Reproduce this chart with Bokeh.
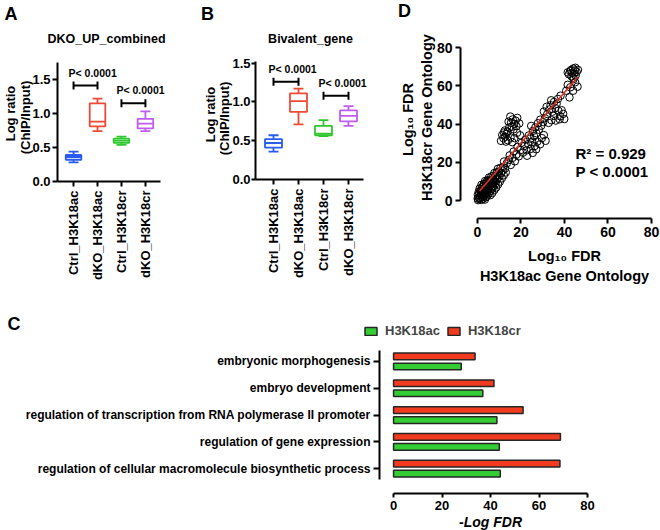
import math
from bokeh.plotting import figure
from bokeh.models import (ColumnDataSource, FixedTicker, NumeralTickFormatter, Label,
                          LabelSet, Legend, LegendItem, Range1d)
from bokeh.layouts import row, column
from bokeh.transform import dodge
from bokeh.core.properties import value
from bokeh.embed import file_html
from bokeh.resources import INLINE

FONT = "Liberation Sans"

# ---------------- Panels A / B : box summaries ----------------
box_cats = ["Ctrl_H3K18ac", "dKO_H3K18ac", "Ctrl_H3K18cr", "dKO_H3K18cr"]
box_colors = ["#2a5cf0", "#f04a35", "#2ec82e", "#c05cf0"]

a_title = "DKO_UP_combined"
a_low = [0.28, 0.74, 0.54, 0.74]
a_q1 = [0.32, 0.81, 0.57, 0.78]
a_med = [0.36, 0.88, 0.60, 0.85]
a_q3 = [0.39, 1.15, 0.63, 0.92]
a_high = [0.44, 1.22, 0.66, 1.03]
a_cmp_y = [1.41, 1.15]

b_title = "Bivalent_gene"
b_low = [0.36, 0.71, 0.56, 0.69]
b_q1 = [0.41, 0.87, 0.57, 0.75]
b_med = [0.47, 1.01, 0.59, 0.82]
b_q3 = [0.52, 1.11, 0.69, 0.89]
b_high = [0.57, 1.17, 0.765, 0.945]
b_cmp_y = [1.26, 1.08]

cmp_pairs = [("Ctrl_H3K18ac", "dKO_H3K18ac"), ("Ctrl_H3K18cr", "dKO_H3K18cr")]
cmp_text = ["P< 0.0001", "P< 0.0001"]
y_title_lines = ["Log ratio", "(ChIP/Input)"]
box_yticks = [0, 0.5, 1.0, 1.5]

# ---------------- Panel D : scatter ----------------
go_points = [
    (0.3, 0.2), (1.0, 0.8), (1.8, 0.3), (2.6, 1.0), (3.4, 0.5), (0.1, 1.0), (0.5, 1.6), (1.4, 2.2),
    (2.2, 1.8), (3.0, 2.4), (3.9, 1.7), (4.6, 2.6), (0.2, 3.0), (1.0, 3.6), (1.9, 3.2), (2.8, 3.9),
    (3.6, 3.3), (4.3, 4.0), (5.2, 3.6), (0.6, 4.6), (1.5, 5.0), (2.3, 4.7), (3.2, 5.4), (4.0, 5.0),
    (4.9, 5.6), (5.8, 4.8), (6.5, 5.9), (6.8, 3.9), (1.0, 6.3), (2.0, 6.8), (3.0, 6.4), (3.8, 7.1),
    (4.7, 6.9), (5.5, 7.4), (6.3, 7.0), (7.2, 7.6), (7.8, 5.6), (1.8, 8.2), (2.9, 8.6), (3.9, 8.9),
    (4.8, 8.4), (5.7, 9.1), (6.6, 8.7), (7.5, 9.3), (8.3, 8.9), (8.6, 6.8), (3.5, 10.2), (4.6, 10.6),
    (5.6, 10.4), (6.5, 11.0), (7.4, 10.8), (8.2, 11.5), (9.1, 10.9), (9.5, 8.4), (10.3, 9.9),
    (5.3, 12.0), (6.4, 12.6), (7.3, 12.9), (8.4, 12.7), (9.3, 13.3), (10.1, 12.6), (11.2, 11.6),
    (7.8, 14.4), (8.9, 14.8), (9.9, 15.2), (10.8, 14.3), (12.1, 13.2), (11.6, 15.6), (13.0, 14.7),
    (9.4, 16.6), (10.6, 17.1), (11.8, 17.5), (12.7, 16.8),
    (1.2, 1.3), (2.4, 2.7), (3.3, 4.4), (1.7, 4.1), (4.4, 7.8), (5.1, 6.2), (2.6, 7.5), (6.0, 8.0),
    (4.2, 9.7), (7.0, 9.9), (6.1, 10.0), (8.0, 10.1), (7.0, 6.5), (5.9, 2.8),
    (13.5, 19.5), (14.4, 21.2), (12.2, 20.4), (15.3, 18.6), (16.1, 22.3), (14.8, 23.6), (17.2, 20.5),
    (17.9, 24.0), (16.6, 25.6), (19.0, 23.1), (19.8, 26.4), (18.4, 28.0), (20.9, 25.0), (21.7, 28.6),
    (22.6, 26.2), (20.3, 30.2), (23.4, 29.5), (22.0, 31.8), (24.3, 32.4), (25.2, 30.6), (23.6, 34.0),
    (26.0, 33.6), (25.5, 36.4), (27.1, 35.2), (26.6, 38.2), (28.2, 37.0), (24.7, 39.0), (27.8, 40.4),
    (29.3, 39.1), (28.9, 42.3), (30.2, 41.0),
    (24.5, 27.0), (26.3, 28.5), (27.5, 30.8), (28.8, 29.4), (29.6, 32.6), (30.5, 34.2), (27.0, 26.8),
    (31.3, 31.2), (22.8, 23.4), (25.4, 24.9),
    (11.4, 34.3), (12.2, 35.6), (12.8, 33.4), (13.3, 34.8), (11.9, 32.6), (12.6, 36.6), (13.8, 36.0),
    (14.6, 38.2), (15.4, 40.6), (16.2, 42.4), (16.9, 40.1), (17.5, 41.8), (15.8, 38.6), (16.6, 37.2),
    (17.9, 38.9), (18.3, 43.2), (15.1, 43.9), (14.3, 41.2), (19.2, 40.3), (13.1, 30.8), (14.0, 31.5),
    (15.2, 33.0), (16.0, 30.5), (17.0, 32.6), (18.2, 35.4), (19.6, 34.1), (10.8, 31.2),
    (31.0, 43.0), (32.1, 45.2), (33.0, 47.6), (33.6, 49.8), (34.4, 46.4), (35.1, 44.2), (35.8, 48.3),
    (36.4, 50.6), (37.2, 46.9), (38.0, 44.0), (38.7, 47.2), (39.4, 45.3), (34.0, 42.0), (36.0, 41.8),
    (32.7, 40.6), (37.8, 42.5), (35.2, 51.5), (33.9, 52.4), (31.8, 49.0), (30.5, 46.5), (39.9, 42.6),
    (37.0, 53.1),
    (38.2, 54.8), (40.8, 57.4), (42.3, 53.9), (42.7, 59.2), (44.0, 57.4), (44.9, 61.8), (44.2, 63.5),
    (41.5, 60.5), (46.0, 59.5),
    (42.0, 66.0), (43.0, 68.2), (44.0, 69.0), (45.0, 69.4), (45.6, 67.2), (44.5, 66.4), (43.2, 65.0),
    (46.2, 68.3), (44.1, 64.2), (42.6, 67.6), (45.1, 65.3), (43.6, 66.8), (41.5, 67.0), (44.8, 68.0),
]
fit_x = [1.0, 46.0]
fit_y = [5.0, 64.5]
d_ticks = [0, 20, 40, 60, 80]
d_stats = ["R\u00b2 = 0.929", "P < 0.0001"]
d_x_title = ["Log\u2081\u2080 FDR", "H3K18ac Gene Ontology"]
d_y_title = ["Log\u2081\u2080 FDR", "H3K18cr Gene Ontology"]

# ---------------- Panel C : GO bars ----------------
go_terms = ["embryonic morphogenesis", "embryo development",
            "regulation of transcription from RNA polymerase II promoter",
            "regulation of gene expression",
            "regulation of cellular macromolecule biosynthetic process"]
ac_fdr = [27.9, 36.8, 42.6, 43.6, 44.0]
cr_fdr = [33.6, 41.4, 53.4, 68.8, 68.6]
c_series = ["H3K18ac", "H3K18cr"]
c_colors = ["#33cc33", "#f23a1f"]
c_ticks = [0, 20, 40, 60, 80]

H1 = 298


def style_axis(ax, size, out=5, standoff=4):
    ax.axis_line_width = 2
    ax.axis_line_color = "black"
    ax.major_tick_line_width = 2
    ax.major_tick_line_color = "black"
    ax.major_tick_out = out
    ax.major_tick_in = 0
    ax.minor_tick_line_color = None
    ax.major_label_text_font = FONT
    ax.major_label_text_font_style = "bold"
    ax.major_label_text_font_size = size
    ax.major_label_text_color = "black"
    ax.major_label_standoff = standoff


class Panel:
    """A figure whose frame fills the whole canvas; axes are pinned with fixed_location."""

    def __init__(self, left, top, width, height, xbox, ybox):
        # xbox = (px_left, px_right, x_at_left, x_at_right)   (page pixels)
        # ybox = (px_bottom, px_top, y_at_bottom, y_at_top)   (page pixels from the top)
        px0, px1, x0, x1 = xbox
        py0, py1, y0, y1 = ybox
        px0, px1, py0, py1 = px0 - left, px1 - left, py0 - top, py1 - top
        sx = (x1 - x0) / (px1 - px0)
        sy = (y1 - y0) / (py0 - py1)
        xr = (x0 - px0 * sx, x1 + (width - px1) * sx)
        yr = (y0 - (height - py0) * sy, y1 + py1 * sy)
        p = figure(width=width, height=height, x_range=Range1d(*xr), y_range=Range1d(*yr),
                   output_backend="svg", toolbar_location=None, min_border=0)
        p.outline_line_color = None
        p.xgrid.visible = False
        p.ygrid.visible = False
        p.background_fill_color = "white"
        p.border_fill_color = "white"
        p.xaxis.fixed_location = y0
        p.yaxis.fixed_location = x0
        p.xaxis.bounds = (x0, x1)
        p.yaxis.bounds = (y0, y1)
        self.p, self.left, self.top, self.height = p, left, top, height

    def label(self, text, cx, cy, size, angle=0.0, align="center", baseline="middle", style="bold"):
        # cx, cy: position on the page (pixels from its top-left)
        self.p.add_layout(Label(x=cx - self.left, y=self.height - (cy - self.top),
                                x_units="screen", y_units="screen", text=text, angle=angle,
                                text_align=align, text_baseline=baseline, text_font=FONT,
                                text_font_size=size, text_font_style=style, text_color="black"))


def box_panel(left, width, xbox, ybox, low, q1, med, q3, high, cmp_y, box_w, box_px, cap_px,
              ytick_out, ytick_standoff):
    pan = Panel(left, 0, width, H1, xbox, ybox)
    p = pan.p
    xs = [i + 1 for i in range(len(box_cats))]
    src = ColumnDataSource(dict(x=xs, low=low, q1=q1, med=med, q3=q3, high=high, color=box_colors))
    p.segment(x0="x", y0="low", x1="x", y1="high", line_color="color", line_width=1.8, source=src)
    p.vbar(x="x", bottom="q1", top="q3", width=box_w, fill_color="white", line_color="color",
           line_width=1.8, source=src)
    for col, sz in (("med", box_px), ("low", cap_px), ("high", cap_px)):
        p.scatter(x="x", y=col, marker="dash", size=sz, line_color="color", line_width=1.8, source=src)
    cx0 = [box_cats.index(a) + 1 for a, b in cmp_pairs]
    cx1 = [box_cats.index(b) + 1 for a, b in cmp_pairs]
    csrc = ColumnDataSource(dict(x0=cx0, x1=cx1, y=cmp_y, text=cmp_text))
    p.segment(x0="x0", y0="y", x1="x1", y1="y", line_color="black", line_width=2, source=csrc)
    for col in ("x0", "x1"):
        p.scatter(x=col, y="y", marker="dash", angle=math.pi / 2, size=8, line_color="black",
                  line_width=2, source=csrc)
    p.add_layout(LabelSet(x="x0", y="y", text="text", source=csrc, x_offset=-5, y_offset=7,
                          text_align="left", text_baseline="bottom", text_font=value(FONT),
                          text_font_style="bold", text_font_size="10.5px", text_color="black"))
    style_axis(p.xaxis[0], "13px", out=5, standoff=4)
    p.xaxis.ticker = FixedTicker(ticks=xs)
    p.xaxis.major_label_overrides = {x: c for x, c in zip(xs, box_cats)}
    p.xaxis.major_label_orientation = math.pi / 2
    style_axis(p.yaxis[0], "13px", out=ytick_out, standoff=ytick_standoff)
    p.yaxis.ticker = FixedTicker(ticks=box_yticks)
    p.yaxis.formatter = NumeralTickFormatter(format="0.0")
    return pan


# ---- A ----  (page x 0..168)
A = box_panel(0, 168, (57, 160, 0.33, 4.63), (181, 62, 0.0, 1.75),
              a_low, a_q1, a_med, a_q3, a_high, a_cmp_y, 0.65, 15, 10, 5, 2)
A.label("A", 4, 13, "18px", align="left")
A.label(a_title, 106, 38, "12.5px")
A.label(y_title_lines[0], 10, 113, "13px", angle=math.pi / 2)
A.label(y_title_lines[1], 25, 117, "13px", angle=math.pi / 2)

# ---- B ----  (page x 168..368)
B = box_panel(168, 200, (255, 363, 0.28, 4.6), (179, 61, 0.0, 1.52),
              b_low, b_q1, b_med, b_q3, b_high, b_cmp_y, 0.68, 17, 10, 4, 1)
B.label("B", 207, 13, "18px")
B.label(b_title, 310, 38, "12.5px")
B.label(y_title_lines[0], 210, 114, "13px", angle=math.pi / 2)
B.label(y_title_lines[1], 224, 118, "13px", angle=math.pi / 2)

# ---- D ----  (page x 368..660)
D = Panel(368, 0, 292, H1, (460, 651, -7.8, 80.0), (218, 47, -9.4, 80.0))
pD = D.p
go_x = [pt[0] for pt in go_points]
go_y = [pt[1] for pt in go_points]
pD.scatter(go_x, go_y, marker="circle", size=7.5, fill_color=None, line_color="black", line_width=1)
pD.line(fit_x, fit_y, line_color="#e0301e", line_width=1.6)
style_axis(pD.xaxis[0], "14px", out=5, standoff=3)
style_axis(pD.yaxis[0], "14px", out=5, standoff=3)
pD.xaxis.ticker = FixedTicker(ticks=d_ticks)
pD.yaxis.ticker = FixedTicker(ticks=d_ticks)
pD.xaxis.bounds = (0, 80)
pD.yaxis.bounds = (0, 80)
D.label("D", 404, 10, "18px")
D.label(d_y_title[0], 407, 119, "14.5px", angle=math.pi / 2)
D.label(d_y_title[1], 426, 117, "14.5px", angle=math.pi / 2)
D.label(d_x_title[0], 564, 255, "14.5px")
D.label(d_x_title[1], 564, 275, "14.5px")
D.label(d_stats[0], 575, 153, "15px", align="left")
D.label(d_stats[1], 575, 171, "15px", align="left")

# ---- C ----  (page y 298..530)
C = Panel(0, 298, 660, 232, (379, 590, -5.8, 81.2), (493, 350, -0.93, 4.41))
pC = C.p
pos = [len(go_terms) - 1 - i for i in range(len(go_terms))]
csrc = ColumnDataSource(dict(pos=pos, ac=ac_fdr, cr=cr_fdr))
r_ac = pC.hbar(y=dodge("pos", -0.187, range=pC.y_range), left=0, right="ac", height=0.25,
               fill_color=c_colors[0], line_color="#262626", line_width=1.5, source=csrc)
r_cr = pC.hbar(y=dodge("pos", 0.187, range=pC.y_range), left=0, right="cr", height=0.25,
               fill_color=c_colors[1], line_color="#262626", line_width=1.5, source=csrc)
style_axis(pC.xaxis[0], "13px", out=4, standoff=3)
pC.xaxis.ticker = FixedTicker(ticks=c_ticks)
pC.xaxis.bounds = (0, 80)
style_axis(pC.yaxis[0], "12px", out=6, standoff=3)
pC.yaxis.ticker = FixedTicker(ticks=pos)
pC.yaxis.major_label_overrides = {p_: t for p_, t in zip(pos, go_terms)}
pC.yaxis.bounds = (-0.4, 4.41)
legend = Legend(items=[LegendItem(label=c_series[0], renderers=[r_ac]),
                       LegendItem(label=c_series[1], renderers=[r_cr])],
                orientation="horizontal", location=(363, 192), glyph_width=15, glyph_height=10,
                label_standoff=7, spacing=6, padding=0, margin=0, border_line_color=None,
                background_fill_alpha=0, label_height=10, label_text_font=FONT,
                label_text_font_style="bold", label_text_font_size="13px")
pC.add_layout(legend)
C.label("C", 7, 323, "18px", align="left")
C.label("-Log FDR", 490, 521, "14px", style="bold italic")

layout = column(row(A.p, B.p, D.p), C.p)
open("out.html", "w").write(file_html(layout, INLINE))
